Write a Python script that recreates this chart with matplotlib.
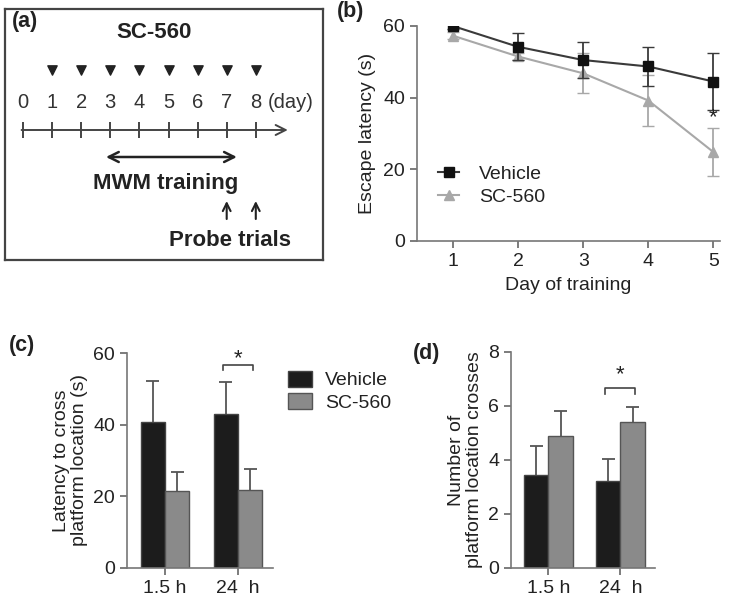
import matplotlib
matplotlib.use("Agg")
import matplotlib.pyplot as plt
from matplotlib.patches import Patch
import numpy as np

plt.rcParams["font.family"] = ["Liberation Sans", "DejaVu Sans"]
plt.rcParams["font.size"] = 14
plt.rcParams["text.color"] = "#222222"
plt.rcParams["axes.labelcolor"] = "#222222"
plt.rcParams["xtick.color"] = "#666666"
plt.rcParams["ytick.color"] = "#666666"
plt.rcParams["xtick.labelcolor"] = "#222222"
plt.rcParams["ytick.labelcolor"] = "#222222"

# (a) schedule
timeline_days = list(range(9))
dose_days = [1, 2, 3, 4, 5, 6, 7, 8]
training_span = (2.85, 7.35)
probe_days = [7, 8]

# (b) escape latency
train_days = [1, 2, 3, 4, 5]
veh_latency = [60, 54.2, 50.5, 48.7, 44.5]
veh_latency_err = [0.8, 3.8, 5.0, 5.5, 8.0]
sc_latency = [57.3, 51.5, 46.8, 39.2, 24.8]
sc_latency_err = [1.0, 1.0, 5.6, 7.2, 6.6]

# (c) latency to cross, (d) number of crosses
probe_labels = ["1.5 h", "24  h"]
veh_cross_lat = [40.8, 42.9]
veh_cross_lat_err = [11.4, 9.1]
sc_cross_lat = [21.6, 21.8]
sc_cross_lat_err = [5.3, 5.8]
veh_crosses = [3.44, 3.22]
veh_crosses_err = [1.08, 0.82]
sc_crosses = [4.89, 5.39]
sc_crosses_err = [0.94, 0.59]

W, H = 750, 599
fig = plt.figure(figsize=(7.5, 5.99), dpi=100)


def frac(l, t, r, b):
    return [l / W, 1 - b / H, (r - l) / W, (b - t) / H]


dark = "#222222"
spine_c = "#777777"
veh_line = "#3a3a3a"
sc_line = "#a8a8a8"
veh_bar = "#1c1c1c"
sc_bar = "#8a8a8a"

# ---------------- (a) ----------------
ax_a = fig.add_axes(frac(5, 9, 323, 260))
ax_a.set_xlim(-0.62, 10.31)
ax_a.set_ylim(260, 9)
ax_a.set_xticks([])
ax_a.set_yticks([])
for s in ax_a.spines.values():
    s.set_color("#444444")
    s.set_linewidth(1.6)

ax_a.text(4.5, 33, "SC-560", ha="center", va="center", fontsize=16, fontweight="bold")
ax_a.scatter(dose_days, [70] * len(dose_days), marker="v", s=45, color=dark, zorder=3)
for d in timeline_days:
    ax_a.text(d, 102, str(d), ha="center", va="center", fontsize=14.5, color="#333333")
ax_a.text(9.2, 102, "(day)", ha="center", va="center", fontsize=14.5, color="#333333")
ax_a.annotate("", xy=(9.1, 130), xytext=(-0.05, 130),
              arrowprops=dict(arrowstyle="->", lw=1.4, color="#444444", mutation_scale=18,
                              shrinkA=0, shrinkB=0))
ax_a.vlines(timeline_days, 122, 138, color="#444444", lw=1.4)
ax_a.annotate("", xy=(training_span[1], 157), xytext=(training_span[0], 157),
              arrowprops=dict(arrowstyle="<->", lw=1.8, color=dark, mutation_scale=18,
                              shrinkA=0, shrinkB=0))
ax_a.text(4.9, 183, "MWM training", ha="center", va="center", fontsize=16, fontweight="bold")
for d in probe_days:
    ax_a.annotate("", xy=(d, 201), xytext=(d, 219),
                  arrowprops=dict(arrowstyle="->", lw=1.5, color=dark, mutation_scale=14,
                                  shrinkA=0, shrinkB=0))
ax_a.text(7.1, 240, "Probe trials", ha="center", va="center", fontsize=16, fontweight="bold")


def style(ax):
    for side in ("top", "right"):
        ax.spines[side].set_visible(False)
    for side in ("left", "bottom"):
        ax.spines[side].set_color(spine_c)
        ax.spines[side].set_linewidth(1.2)
    ax.tick_params(direction="out", length=5, width=1.2, labelsize=14)


# ---------------- (b) ----------------
ax_b = fig.add_axes(frac(417, 26, 720, 241))
style(ax_b)
ax_b.errorbar(train_days, sc_latency, yerr=sc_latency_err, fmt="none", ecolor=sc_line,
              capsize=4, elinewidth=1.3, zorder=2)
ax_b.errorbar(train_days, veh_latency, yerr=veh_latency_err, fmt="none", ecolor=veh_line,
              capsize=4, elinewidth=1.3, zorder=3)
l_sc, = ax_b.plot(train_days, sc_latency, color=sc_line, marker="^", markersize=7, lw=1.5,
                  label="SC-560", zorder=2)
l_veh, = ax_b.plot(train_days, veh_latency, color=veh_line, marker="s", markersize=7,
                   mfc="#111111", mec="#111111", lw=1.5, label="Vehicle", zorder=3)
ax_b.text(5, 34.5, "*", ha="center", va="center", fontsize=16)
ax_b.set_xlim(0.45, 5.1)
ax_b.set_ylim(0, 60)
ax_b.set_xticks(train_days)
ax_b.set_yticks([0, 20, 40, 60])
ax_b.set_xlabel("Day of training", fontsize=14, labelpad=5)
ax_b.set_ylabel("Escape latency (s)", fontsize=14, labelpad=5)
ax_b.legend([l_veh, l_sc], ["Vehicle", "SC-560"], loc="upper left",
            bbox_to_anchor=(438 / W, 1 - 165 / H), bbox_transform=fig.transFigure,
            borderaxespad=0, borderpad=0, frameon=False, fontsize=14, handlelength=1.1,
            handletextpad=1.0, labelspacing=0.3)


def bar_panel(ax, veh, veh_err, sc, sc_err, ylim, yticks, ylabel, star_y, bracket_y, leg):
    style(ax)
    x = np.arange(len(probe_labels))
    w = 0.335
    cw = 0.09
    ax.bar(x - w / 2, veh, w, color=veh_bar, edgecolor="#444444", lw=1.0, zorder=2)
    ax.bar(x + w / 2, sc, w, color=sc_bar, edgecolor="#555555", lw=1.0, zorder=2)
    for xs, vals, errs in ((x - w / 2, veh, veh_err), (x + w / 2, sc, sc_err)):
        tops = np.array(vals) + np.array(errs)
        ax.vlines(xs, vals, tops, color="#555555", lw=1.3, zorder=1)
        ax.hlines(tops, xs - cw, xs + cw, color="#555555", lw=1.3, zorder=1)
    d = ylim[1] * 0.025
    ax.plot([x[1] - w * 0.62, x[1] - w * 0.62, x[1] + w * 0.62, x[1] + w * 0.62],
            [bracket_y - d, bracket_y, bracket_y, bracket_y - d], color="#444444", lw=1.2)
    ax.text(x[1], star_y, "*", ha="center", va="center", fontsize=16)
    ax.set_xticks(x)
    ax.set_xticklabels(probe_labels)
    ax.set_xlim(-0.52, 1.48)
    ax.set_ylim(*ylim)
    ax.set_yticks(yticks)
    ax.set_ylabel(ylabel, fontsize=14, labelpad=4, linespacing=1.05)
    if leg:
        handles = [Patch(facecolor=veh_bar, edgecolor="#444444"),
                   Patch(facecolor=sc_bar, edgecolor="#555555")]
        ax.legend(handles, ["Vehicle", "SC-560"], loc="upper left",
                  bbox_to_anchor=(288 / W, 1 - 371 / H), bbox_transform=fig.transFigure,
                  borderaxespad=0, borderpad=0, frameon=False, fontsize=14,
                  handlelength=1.25, handleheight=0.85, handletextpad=0.65, labelspacing=0.2)


ax_c = fig.add_axes(frac(127, 353, 273, 568))
bar_panel(ax_c, veh_cross_lat, veh_cross_lat_err, sc_cross_lat, sc_cross_lat_err,
          (0, 60), [0, 20, 40, 60], "Latency to cross\nplatform location (s)", 58.3, 56.7, True)

ax_d = fig.add_axes(frac(511, 352, 655, 568))
bar_panel(ax_d, veh_crosses, veh_crosses_err, sc_crosses, sc_crosses_err,
          (0, 8), [0, 2, 4, 6, 8], "Number of\nplatform location crosses", 7.15, 6.65, False)

for txt, x, y in [("(a)", 25, 22), ("(b)", 351, 12), ("(c)", 22, 345), ("(d)", 427, 354)]:
    fig.text(x / W, 1 - y / H, txt, ha="center", va="center", fontsize=15.5, fontweight="bold")

fig.savefig("out.png", dpi=100)
